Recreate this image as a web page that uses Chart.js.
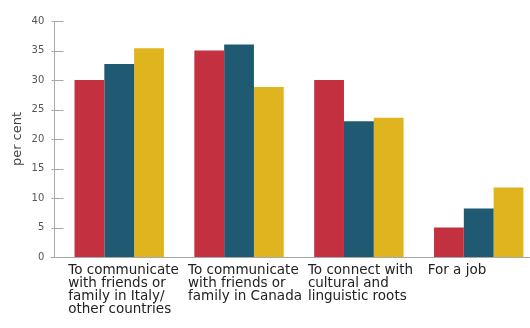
<!DOCTYPE html>
<html>
<head>
<meta charset="utf-8">
<script src="https://cdn.jsdelivr.net/npm/chart.js@4.4.1/dist/chart.umd.min.js"></script>
<style>
  html, body { margin: 0; padding: 0; background: #ffffff; overflow: hidden; }
  #wrap { position: relative; width: 544px; height: 328px; }
</style>
</head>
<body>
<div id="wrap"><canvas id="c"></canvas></div>
<script>
const categories = [
  ["To communicate", "with friends or", "family in Italy/", "other countries"],
  ["To communicate", "with friends or", "family in Canada"],
  ["To connect with", "cultural and", "linguistic roots"],
  ["For a job"]
];
const seriesNames = ["Series 1", "Series 2", "Series 3"];
const seriesRed = [30, 35, 30, 5];
const seriesBlue = [32.7, 36, 23, 8.2];
const seriesYellow = [35.4, 28.8, 23.6, 11.8];
const yTicks = [0, 5, 10, 15, 20, 25, 30, 35, 40];
const yTitle = "per cent";

const colors = ["#c3303f", "#1f5a72", "#dfb41f"];

const axisPlugin = {
  id: 'customAxes',
  beforeDatasetsDraw(chart) {
    const { ctx, chartArea, scales } = chart;
    const y = scales.y;
    const ax = Math.round(chartArea.left - 5) + 0.5;
    const yTop = Math.round(y.getPixelForValue(yTicks[yTicks.length - 1])) + 0.5;
    const y0 = Math.round(y.getPixelForValue(0)) + 0.5;
    ctx.save();
    ctx.strokeStyle = '#a8a8a8';
    ctx.lineWidth = 1;
    ctx.beginPath();
    ctx.moveTo(ax, yTop);
    ctx.lineTo(ax, y0);
    yTicks.forEach(v => {
      const py = Math.round(y.getPixelForValue(v)) + 0.5;
      ctx.moveTo(ax - 3, py);
      ctx.lineTo(ax + 9, py);
    });
    ctx.moveTo(ax - 4, y0);
    ctx.lineTo(chartArea.right, y0);
    ctx.stroke();
    ctx.restore();
  }
};

new Chart(document.getElementById('c'), {
  type: 'bar',
  data: {
    labels: categories,
    datasets: [
      { label: seriesNames[0], data: seriesRed, backgroundColor: colors[0] },
      { label: seriesNames[1], data: seriesBlue, backgroundColor: colors[1] },
      { label: seriesNames[2], data: seriesYellow, backgroundColor: colors[2] }
    ]
  },
  options: {
    responsive: true,
    maintainAspectRatio: false,
    animation: false,
    layout: { padding: { top: 19, right: 2, bottom: 0, left: 0 } },
    plugins: {
      legend: { display: false },
      tooltip: { enabled: false }
    },
    datasets: {
      bar: { barPercentage: 1.0, categoryPercentage: 0.746 }
    },
    scales: {
      x: {
        grid: { display: false, drawTicks: false },
        border: { display: false },
        ticks: {
          autoSkip: false,
          maxRotation: 0,
          minRotation: 0,
          align: 'start',
          labelOffset: -51,
          padding: 6.5,
          color: '#222222',
          font: { family: 'DejaVu Sans', size: 13.5, lineHeight: '13.2px' }
        },
        afterFit(scale) { scale.height = 71; }
      },
      y: {
        min: 0,
        max: 40,
        grid: { display: false, drawTicks: false },
        border: { display: false },
        ticks: {
          stepSize: 5,
          padding: 15,
          color: '#555555',
          font: { family: 'DejaVu Sans', size: 10 }
        },
        title: {
          display: true,
          text: yTitle,
          color: '#444444',
          padding: { top: 10, bottom: 0 },
          font: { family: 'DejaVu Sans', size: 13 }
        },
        afterFit(scale) { scale.width = 59.3; }
      }
    }
  },
  plugins: [axisPlugin]
});
</script>
</body>
</html>
